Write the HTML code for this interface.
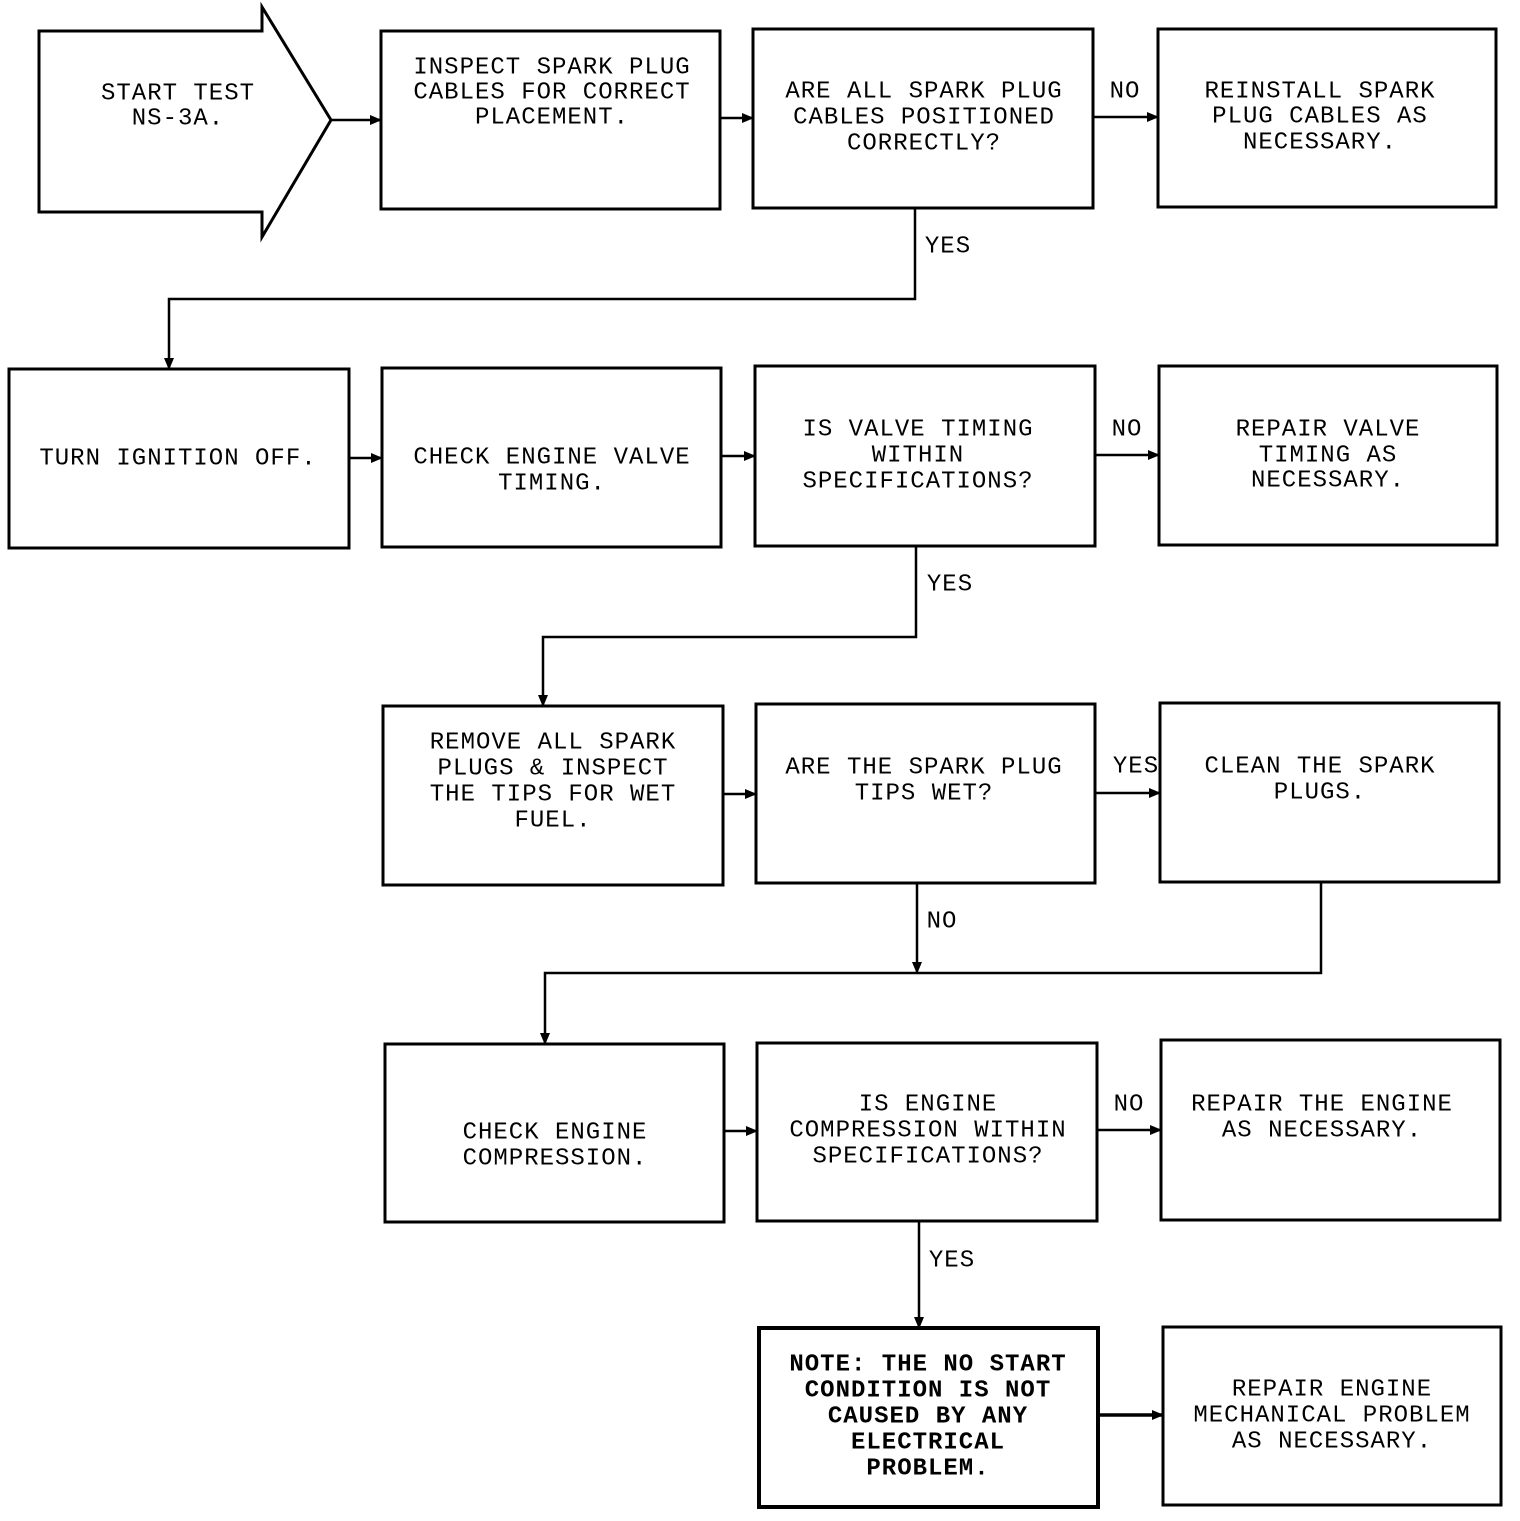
<!DOCTYPE html>
<html><head><meta charset="utf-8"><style>
html,body{margin:0;padding:0;background:#fff}
svg text{font-family:"Liberation Mono",monospace;font-size:24px;letter-spacing:1px;fill:#000;text-anchor:middle;dominant-baseline:middle}
</style></head><body>
<svg width="1520" height="1516" viewBox="0 0 1520 1516" xmlns="http://www.w3.org/2000/svg">
<defs><marker id="a" markerWidth="12" markerHeight="10" refX="11" refY="5" orient="auto" markerUnits="userSpaceOnUse"><path d="M0,0 L12,5 L0,10 Z" fill="#000"/></marker></defs>
<g fill="none" stroke="#000" stroke-width="3">
<path d="M39,31 H262 V7 L331,120 L262,237 V212 H39 Z"/>
<rect x="381" y="31" width="339" height="178"/>
<rect x="753" y="29" width="340" height="179"/>
<rect x="1158" y="29" width="338" height="178"/>
<rect x="9" y="369" width="340" height="179"/>
<rect x="382" y="368" width="339" height="179"/>
<rect x="755" y="366" width="340" height="180"/>
<rect x="1159" y="366" width="338" height="179"/>
<rect x="383" y="706" width="340" height="179"/>
<rect x="756" y="704" width="339" height="179"/>
<rect x="1160" y="703" width="339" height="179"/>
<rect x="385" y="1044" width="339" height="178"/>
<rect x="757" y="1043" width="340" height="178"/>
<rect x="1161" y="1040" width="339" height="180"/>
<rect x="759" y="1328" width="339" height="179" stroke-width="4"/>
<rect x="1163" y="1327" width="338" height="178"/>
</g>
<g fill="none" stroke="#000" stroke-width="2.5" marker-end="url(#a)">
<path d="M331,120 H381"/>
<path d="M720,118 H753"/>
<path d="M1093,117 H1158"/>
<path d="M915,208 V299 H169 V369"/>
<path d="M349,458 H382"/>
<path d="M721,456 H755"/>
<path d="M1095,455 H1159"/>
<path d="M916,546 V637 H543 V706"/>
<path d="M723,794 H756"/>
<path d="M1095,793 H1160"/>
<path d="M917,883 V973"/>
<path d="M1321,882 V973 H545 V1044"/>
<path d="M724,1131 H757"/>
<path d="M1097,1130 H1161"/>
<path d="M919,1221 V1328"/>
<path d="M1098,1415 H1163" stroke-width="3.5"/>
</g>
<text x="178" y="93">START TEST</text><text x="178" y="118">NS-3A.</text>
<text x="552" y="67">INSPECT SPARK PLUG</text><text x="552" y="92">CABLES FOR CORRECT</text><text x="552" y="117">PLACEMENT.</text>
<text x="924" y="91">ARE ALL SPARK PLUG</text><text x="924" y="117">CABLES POSITIONED</text><text x="924" y="143">CORRECTLY?</text>
<text x="1320" y="91">REINSTALL SPARK</text><text x="1320" y="116">PLUG CABLES AS</text><text x="1320" y="142">NECESSARY.</text>
<text x="1125" y="91">NO</text><text x="948" y="246">YES</text>
<text x="178" y="458">TURN IGNITION OFF.</text>
<text x="552" y="457">CHECK ENGINE VALVE</text><text x="552" y="483">TIMING.</text>
<text x="918" y="429">IS VALVE TIMING</text><text x="918" y="455">WITHIN</text><text x="918" y="481">SPECIFICATIONS?</text>
<text x="1328" y="429">REPAIR VALVE</text><text x="1328" y="455">TIMING AS</text><text x="1328" y="480">NECESSARY.</text>
<text x="1127" y="429">NO</text><text x="950" y="584">YES</text>
<text x="553" y="742">REMOVE ALL SPARK</text><text x="553" y="768">PLUGS &amp; INSPECT</text><text x="553" y="794">THE TIPS FOR WET</text><text x="553" y="820">FUEL.</text>
<text x="924" y="767">ARE THE SPARK PLUG</text><text x="924" y="793">TIPS WET?</text>
<text x="1320" y="766">CLEAN THE SPARK</text><text x="1320" y="792">PLUGS.</text>
<text x="1136" y="766">YES</text><text x="942" y="921">NO</text>
<text x="555" y="1132">CHECK ENGINE</text><text x="555" y="1158">COMPRESSION.</text>
<text x="928" y="1104">IS ENGINE</text><text x="928" y="1130">COMPRESSION WITHIN</text><text x="928" y="1156">SPECIFICATIONS?</text>
<text x="1322" y="1104">REPAIR THE ENGINE</text><text x="1322" y="1130">AS NECESSARY.</text>
<text x="1129" y="1104">NO</text><text x="952" y="1260">YES</text>
<g style="font-weight:bold">
<text x="928" y="1364">NOTE: THE NO START</text><text x="928" y="1390">CONDITION IS NOT</text><text x="928" y="1416">CAUSED BY ANY</text><text x="928" y="1442">ELECTRICAL</text><text x="928" y="1468">PROBLEM.</text>
</g>
<text x="1332" y="1389">REPAIR ENGINE</text><text x="1332" y="1415">MECHANICAL PROBLEM</text><text x="1332" y="1441">AS NECESSARY.</text>
</svg>
</body></html>
